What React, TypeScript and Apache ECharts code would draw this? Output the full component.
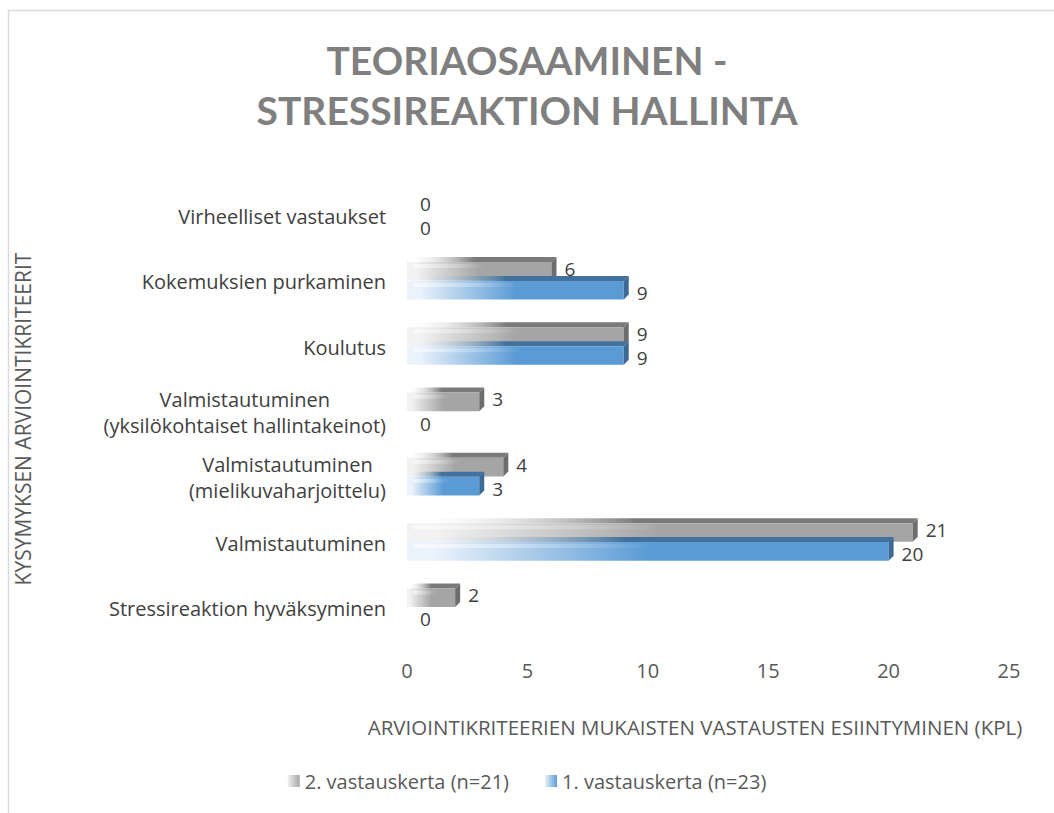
import React, { useEffect, useRef } from "react";
import * as echarts from "echarts";

const categories = [
  "Stressireaktion hyväksyminen",
  "Valmistautuminen",
  "Valmistautuminen\n(mielikuvaharjoittelu)",
  "Valmistautuminen\n(yksilökohtaiset hallintakeinot)",
  "Koulutus",
  "Kokemuksien purkaminen",
  "Virheelliset vastaukset",
];
const secondRound = [2, 21, 4, 3, 9, 6, 0];
const firstRound = [0, 20, 3, 0, 9, 9, 0];
const seriesNames = ["2. vastauskerta (n=21)", "1. vastauskerta (n=23)"];
const xMin = 0;
const xMax = 25;
const xInterval = 5;
const titleText = "TEORIAOSAAMINEN -\nSTRESSIREAKTION HALLINTA";
const xAxisName = "ARVIOINTIKRITEERIEN MUKAISTEN VASTAUSTEN ESIINTYMINEN (KPL)";
const yAxisName = "KYSYMYKSEN ARVIOINTIKRITEERIT";

const FONT = "'Open Sans', 'Noto Sans', sans-serif";
const TITLE_FONT = "Lato, 'Open Sans', sans-serif";
const FS = 20;

const palettes = [
  { light: "#f2f2f2", main: "#a5a5a5", top: "#7a7a7a", side: "#6d6d6d" },
  { light: "#eaf2fb", main: "#5b9bd5", top: "#41719c", side: "#3d6a94" },
];

const makeRender = (slot: number) => (params: any, api: any) => {
  const v = api.value(0);
  const i = api.value(1);
  const p = palettes[slot];
  const [x0, yc] = api.coord([0, i]);
  const [x1] = api.coord([v, i]);
  const band = api.size([0, 1])[1];
  const top = slot === 0 ? yc - band * 0.305 : yc - band * 0.015;
  const h = band * 0.285;
  const d = 5;
  const children: any[] = [];
  if (v > 0) {
    children.push({
      type: "polygon",
      shape: { points: [[x0, top], [x0 + d, top - d], [x1 + d, top - d], [x1, top]] },
      style: {
        fill: new echarts.graphic.LinearGradient(0, 0, 1, 0, [
          { offset: 0, color: "rgba(255,255,255,0)" },
          { offset: 0.45, color: p.top },
          { offset: 1, color: p.top },
        ]),
      },
    });
    children.push({
      type: "rect",
      shape: { x: x0, y: top, width: x1 - x0, height: h },
      style: {
        fill: new echarts.graphic.LinearGradient(0, 0, 1, 0, [
          { offset: 0, color: p.light },
          { offset: 0.06, color: p.light },
          { offset: 0.5, color: p.main },
          { offset: 1, color: p.main },
        ]),
      },
    });
    children.push({
      type: "rect",
      shape: { x: x0 + 6, y: top + 2, width: (x1 - x0) * 0.5, height: 4 },
      style: {
        fill: new echarts.graphic.LinearGradient(0, 0, 1, 0, [
          { offset: 0, color: "rgba(255,255,255,0.55)" },
          { offset: 1, color: "rgba(255,255,255,0)" },
        ]),
      },
    });
    children.push({
      type: "polygon",
      shape: { points: [[x1, top], [x1 + d, top - d], [x1 + d, top + h - d], [x1, top + h]] },
      style: { fill: p.side },
    });
  }
  children.push({
    type: "text",
    z2: 100,
    style: {
      text: String(v),
      x: x1 + 13,
      y: slot === 0 ? yc - band * 0.2 : yc + band * 0.17,
      fill: "#404040",
      fontSize: 19,
      lineHeight: 19,
      fontFamily: FONT,
      align: "left",
      verticalAlign: "middle",
    },
  });
  return { type: "group", children };
};

export default function App() {
  const ref = useRef<HTMLDivElement>(null);
  useEffect(() => {
    if (!ref.current) return;
    const chart = echarts.init(ref.current, null, { renderer: "svg" });
    const legendColors = palettes.map(
      (p) =>
        new echarts.graphic.LinearGradient(0, 0, 1, 0, [
          { offset: 0, color: p.light },
          { offset: 1, color: p.main },
        ])
    );
    chart.setOption({
      animation: false,
      backgroundColor: "#ffffff",
      textStyle: { fontFamily: FONT },
      title: {
        text: titleText,
        left: "center",
        top: 30,
        textStyle: {
          fontSize: 39,
          fontWeight: "bold",
          color: "#7f7f7f",
          lineHeight: 50,
          fontFamily: TITLE_FONT,
        },
      },
      grid: { left: 407, right: 45, top: 184, bottom: 172, containLabel: false },
      xAxis: {
        type: "value",
        min: xMin,
        max: xMax,
        interval: xInterval,
        splitLine: { show: false },
        axisLine: { show: false },
        axisTick: { show: false },
        axisLabel: { color: "#595959", fontSize: FS, margin: 19, fontFamily: FONT },
      },
      yAxis: {
        type: "category",
        data: categories,
        axisLine: { show: false },
        axisTick: { show: false },
        axisLabel: {
          color: "#404040",
          fontSize: FS,
          margin: 21,
          align: "right",
          fontFamily: FONT,
          formatter: (val: string) =>
            val
              .split("\n")
              .map((l) => "{c|" + l + "}")
              .join("\n"),
          rich: {
            c: { align: "center", fontSize: FS, color: "#404040", lineHeight: 26, fontFamily: FONT },
          },
        },
      },
      legend: {
        bottom: 17,
        left: "center",
        itemGap: 36,
        itemWidth: 12,
        itemHeight: 12,
        icon: "rect",
        textStyle: { color: "#595959", fontSize: FS, fontFamily: FONT },
        data: seriesNames,
      },
      graphic: [
        {
          type: "rect",
          shape: { x: 8.5, y: 10.5, width: 1100, height: 900 },
          style: { fill: "none", stroke: "#d9d9d9", lineWidth: 1.5 },
          silent: true,
        },
        {
          type: "text",
          x: 695,
          y: 727,
          style: {
            text: xAxisName,
            fill: "#595959",
            fontSize: 20.5,
            fontFamily: FONT,
            align: "center",
            verticalAlign: "middle",
          },
        },
        {
          type: "text",
          x: 23,
          y: 419,
          rotation: Math.PI / 2,
          style: {
            text: yAxisName,
            fill: "#595959",
            fontSize: 21,
            fontFamily: FONT,
            align: "center",
            verticalAlign: "middle",
          },
        },
      ],
      series: [
        {
          name: seriesNames[0],
          type: "custom",
          renderItem: makeRender(0),
          encode: { x: 0, y: 1 },
          itemStyle: { color: legendColors[0] },
          data: secondRound.map((v, i) => [v, i]),
        },
        {
          name: seriesNames[1],
          type: "custom",
          renderItem: makeRender(1),
          encode: { x: 0, y: 1 },
          itemStyle: { color: legendColors[1] },
          data: firstRound.map((v, i) => [v, i]),
        },
      ],
    });
    return () => chart.dispose();
  }, []);
  return (
    <div
      ref={ref}
      style={{ position: "fixed", left: 0, top: 0, width: "1054px", height: "813px" }}
    />
  );
}
